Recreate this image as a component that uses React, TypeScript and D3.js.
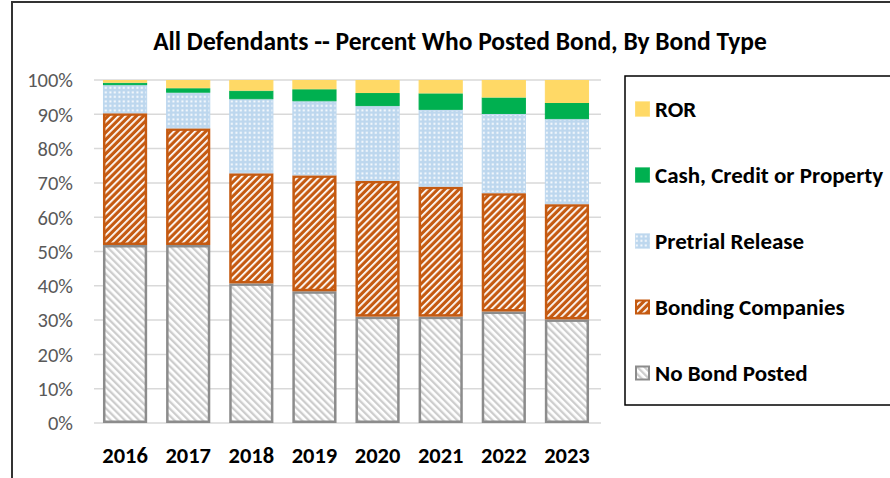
import React from 'react';
import * as d3 from 'd3';

const years = ['2016', '2017', '2018', '2019', '2020', '2021', '2022', '2023'];
const noBondPosted = [51.9, 51.9, 40.7, 38.4, 31.0, 31.0, 32.5, 30.2];
const bondingCompanies = [38.4, 34.0, 32.1, 33.8, 39.6, 37.9, 34.5, 33.6];
const pretrialRelease = [8.2, 10.4, 21.6, 21.6, 21.8, 22.4, 23.1, 24.8];
const cashCreditProperty = [0.7, 1.3, 2.5, 3.5, 3.8, 4.8, 4.8, 4.7];
const ror = [0.8, 2.4, 3.1, 2.7, 3.8, 3.9, 5.1, 6.7];
const yTicks = [0, 0.1, 0.2, 0.3, 0.4, 0.5, 0.6, 0.7, 0.8, 0.9, 1];

const seriesKeys = ['nb', 'bc', 'pr', 'ccp', 'ror'];
const seriesNames: Record<string, string> = {
  nb: 'No Bond Posted',
  bc: 'Bonding Companies',
  pr: 'Pretrial Release',
  ccp: 'Cash, Credit or Property',
  ror: 'ROR',
};
const fills: Record<string, string> = {
  nb: 'url(#pat-nb)',
  bc: 'url(#pat-bc)',
  pr: 'url(#pat-pr)',
  ccp: '#00b050',
  ror: '#ffd966',
};
const strokes: Record<string, string> = {
  nb: '#8c8c8c',
  bc: '#c55a11',
  pr: '#bdd7ee',
  ccp: '#00b050',
  ror: '#ffd966',
};
const strokeW: Record<string, number> = { nb: 2.5, bc: 2.5, pr: 1, ccp: 1, ror: 1 };

const FONT = "Carlito, Calibri, Lato, 'Noto Sans', sans-serif";

export default function App() {
  const rows = years.map((y, i) => ({
    year: y,
    nb: noBondPosted[i] / 100,
    bc: bondingCompanies[i] / 100,
    pr: pretrialRelease[i] / 100,
    ccp: cashCreditProperty[i] / 100,
    ror: ror[i] / 100,
  }));
  const stacked = d3.stack<any>().keys(seriesKeys)(rows);

  const x = d3.scaleBand().domain(years).range([93.5, 598.5]).paddingInner(0.3).paddingOuter(0.15);
  const y = d3.scaleLinear().domain([0, 1]).range([423, 80]);
  const fmt = d3.format('.0%');

  const legendOrder = ['ror', 'ccp', 'pr', 'bc', 'nb'];
  const legendY = d3.scalePoint().domain(legendOrder).range([109, 373]);

  return (
    <svg width={890} height={478} style={{ position: 'absolute', left: 0, top: 0, background: '#fff' }} fontFamily={FONT}>
      <defs>
        <pattern id="pat-nb" patternUnits="userSpaceOnUse" width={5} height={5} patternTransform="rotate(-45)">
          <rect width={5} height={5} fill="#ffffff" />
          <rect width={2.3} height={5} fill="#cdcdcd" />
        </pattern>
        <pattern id="pat-bc" patternUnits="userSpaceOnUse" width={5} height={5} patternTransform="rotate(45)">
          <rect width={5} height={5} fill="#c55a11" />
          <rect width={1.8} height={5} fill="#ffffff" />
        </pattern>
        <pattern id="pat-pr" patternUnits="userSpaceOnUse" width={4.5} height={4.5}>
          <rect width={4.5} height={4.5} fill="#bdd7ee" />
          <rect x={1.4} y={1.4} width={1.9} height={1.9} fill="#ffffff" />
        </pattern>
      </defs>

      {/* outer frame */}
      <rect x={12} y={2} width={900} height={500} fill="none" stroke="#333" strokeWidth={2} />

      <text x={460} y={50} textAnchor="middle" fontWeight="bold" fontSize={25.5} fill="#000">
        All Defendants -- Percent Who Posted Bond, By Bond Type
      </text>

      {/* gridlines + y labels */}
      {yTicks.map(t => (
        <g key={t}>
          <line x1={94} x2={601} y1={y(t)} y2={y(t)} stroke="#d9d9d9" strokeWidth={1.5} />
          <text x={73} y={y(t)} dy="0.36em" textAnchor="end" fontSize={20.5} fill="#595959">
            {fmt(t)}
          </text>
        </g>
      ))}

      {/* bars */}
      {stacked.map(s => (
        <g key={s.key}>
          {s.map((d, i) => {
            const sw = strokeW[s.key];
            const x0 = (x(years[i]) as number) + sw / 2;
            const w = x.bandwidth() - sw;
            const top = y(d[1]) + sw / 2;
            const h = y(d[0]) - y(d[1]) - sw;
            return (
              <rect
                key={i}
                x={x0}
                y={top}
                width={w}
                height={Math.max(0, h)}
                fill={fills[s.key]}
                stroke={strokes[s.key]}
                strokeWidth={sw}
              />
            );
          })}
        </g>
      ))}

      {/* x labels */}
      {years.map(yr => (
        <text key={yr} x={(x(yr) as number) + x.bandwidth() / 2} y={463} textAnchor="middle" fontWeight="bold" fontSize={22.5} fill="#000">
          {yr}
        </text>
      ))}

      {/* legend */}
      <rect x={625} y={76} width={300} height={329} fill="#fff" stroke="#000" strokeWidth={1.5} />
      {legendOrder.map(k => {
        const cy = legendY(k) as number;
        const sw = k === 'nb' || k === 'bc' ? 2 : 0.5;
        return (
          <g key={k}>
            <rect x={635 + sw / 2} y={cy - 7.5 + sw / 2} width={15 - sw} height={15 - sw} fill={fills[k]} stroke={strokes[k]} strokeWidth={sw} />
            <text x={655} y={cy} dy="0.36em" fontWeight="bold" fontSize={23} fill="#000">
              {seriesNames[k]}
            </text>
          </g>
        );
      })}
    </svg>
  );
}
